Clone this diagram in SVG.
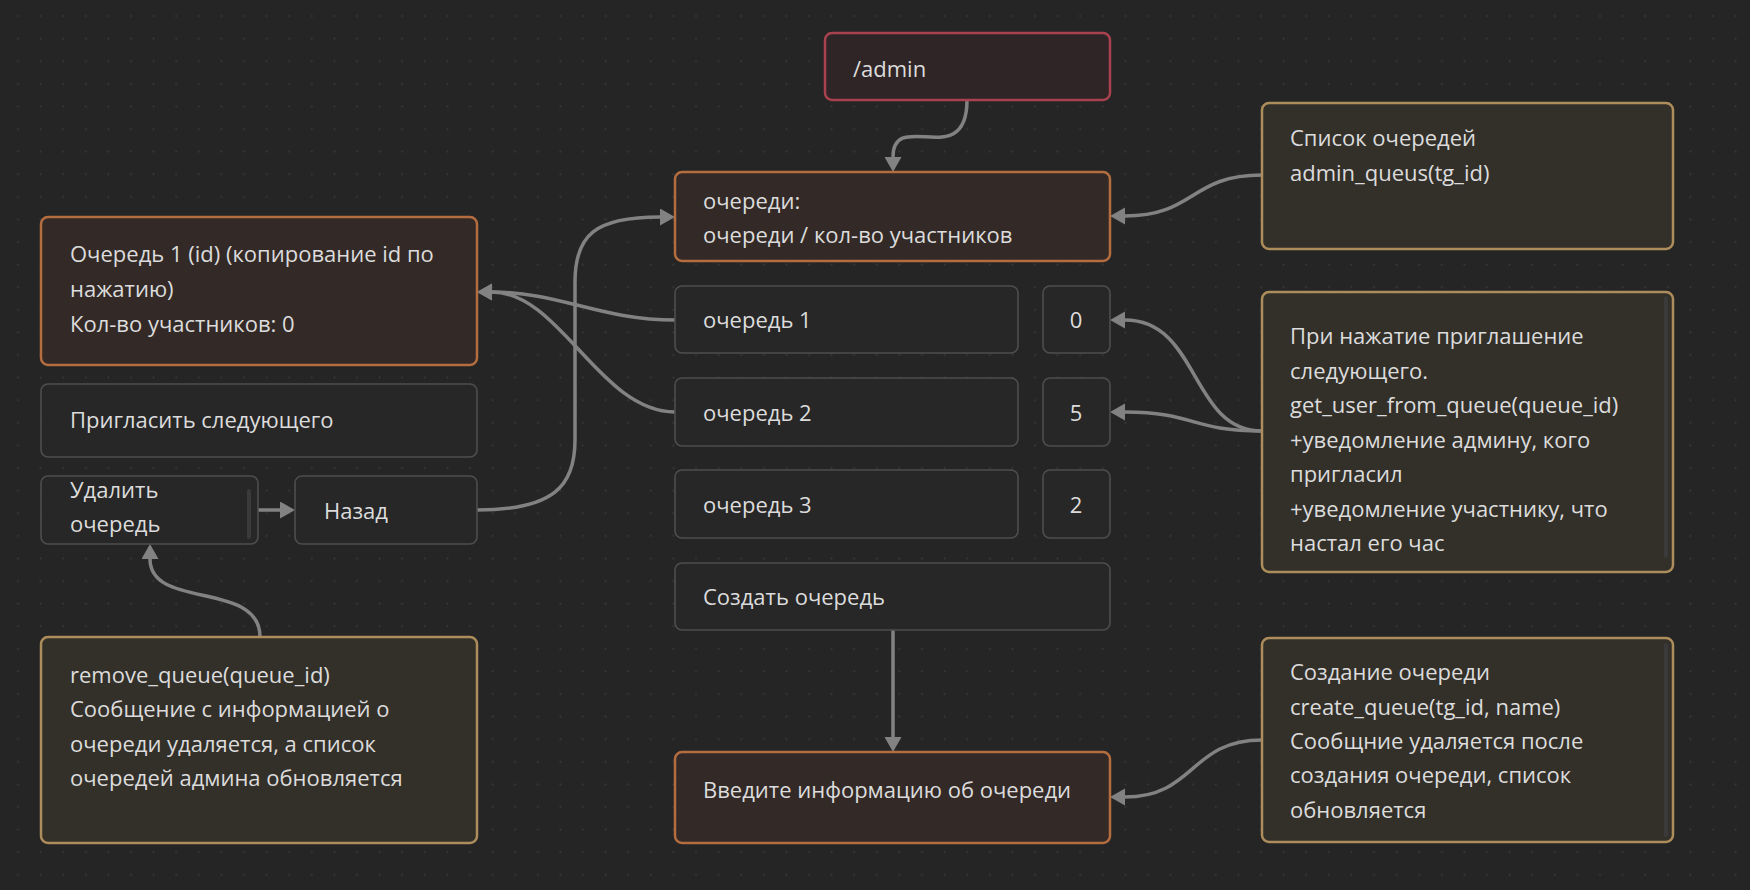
<svg xmlns="http://www.w3.org/2000/svg" width="1750" height="890" viewBox="0 0 1750 890">
<defs>
<pattern id="grid" x="6.7" y="4.7" width="22.6" height="22.6" patternUnits="userSpaceOnUse">
<circle cx="11.3" cy="11.3" r="1" fill="#3a3a3a"/>
</pattern>
<marker id="arr" markerUnits="userSpaceOnUse" markerWidth="16" markerHeight="18" refX="0" refY="8.5" orient="auto">
<path d="M0,0 L15,8.5 L0,17 z" fill="#828282"/>
</marker>
<style>
text{font-family:"Open Sans","Noto Sans",sans-serif;font-size:22px;fill:#dcdcdc}
.n{fill:#272727;stroke:#4e4e4e;stroke-width:1.6}
.o{fill:#332a27;stroke:#b46d3f;stroke-width:2.5}
.r{fill:#2f2526;stroke:#a8424f;stroke-width:2.5}
.t{fill:#33302a;stroke:#ad8d5b;stroke-width:2.5}
.sb{fill:#3a3a3a}
.e{fill:none;stroke:#828282;stroke-width:3.5;marker-end:url(#arr)}
.c{text-anchor:middle}
</style>
</defs>
<rect width="1750" height="890" fill="#252525"/>
<rect width="1750" height="890" fill="url(#grid)"/>

<g id="edges">
<path class="e" d="M967,100 C967,172 893,108 893,157"/>
<path class="e" d="M1262,175 C1190,175 1195,216 1125,216"/>
<path class="e" d="M675,320 C600,320 560,292 492,292"/>
<path class="e" d="M675,412 C600,412 560,292 492,292"/>
<path class="e" d="M477,510 C555,510 575,485 575,440 L575,282 C575,235 595,217 660,217"/>
<path class="e" d="M258,510 L280,510"/>
<path class="e" d="M260,637 C260,580 150,610 150,559"/>
<path class="e" d="M1262,431 C1190,431 1200,320 1125,320"/>
<path class="e" d="M1262,431 C1190,431 1195,412 1125,412"/>
<path class="e" d="M893,630 L893,737"/>
<path class="e" d="M1262,740 C1190,740 1195,797 1125,797"/>
</g>

<g id="admin"><rect class="r" x="825" y="33" width="285" height="67" rx="7"/><text x="853" y="77">/admin</text></g>
<g id="queues"><rect class="o" x="675" y="172" width="435" height="89" rx="7"/><text x="703" y="209">очереди:</text><text x="703" y="243">очереди / кол-во участников</text></g>
<g id="queue1-info"><rect class="o" x="41" y="217" width="436" height="148" rx="7"/><text x="70" y="262">Очередь 1 (id) (копирование id по</text><text x="70" y="297">нажатию)</text><text x="70" y="332">Кол-во участников: 0</text></g>
<g id="invite"><rect class="n" x="41" y="384" width="436" height="73" rx="7"/><text x="70" y="428">Пригласить следующего</text></g>
<g id="delete"><rect class="n" x="41" y="476" width="217" height="68" rx="7"/><rect class="sb" x="247" y="489" width="4" height="50" rx="2"/><text x="70" y="498">Удалить</text><text x="70" y="532">очередь</text></g>
<g id="back"><rect class="n" x="295" y="476" width="182" height="68" rx="7"/><text x="324" y="519">Назад</text></g>
<g id="remove-note"><rect class="t" x="41" y="637" width="436" height="206" rx="7"/><text x="70" y="683">remove_queue(queue_id)</text><text x="70" y="717">Сообщение с информацией о</text><text x="70" y="752">очереди удаляется, а список</text><text x="70" y="786">очередей админа обновляется</text></g>
<g id="row1"><rect class="n" x="675" y="286" width="343" height="67" rx="7"/><text x="703" y="328">очередь 1</text></g>
<g id="count1"><rect class="n" x="1043" y="286" width="67" height="67" rx="7"/><text class="c" x="1076" y="328">0</text></g>
<g id="row2"><rect class="n" x="675" y="378" width="343" height="68" rx="7"/><text x="703" y="421">очередь 2</text></g>
<g id="count2"><rect class="n" x="1043" y="378" width="67" height="68" rx="7"/><text class="c" x="1076" y="421">5</text></g>
<g id="row3"><rect class="n" x="675" y="470" width="343" height="68" rx="7"/><text x="703" y="513">очередь 3</text></g>
<g id="count3"><rect class="n" x="1043" y="470" width="67" height="68" rx="7"/><text class="c" x="1076" y="513">2</text></g>
<g id="create"><rect class="n" x="675" y="563" width="435" height="67" rx="7"/><text x="703" y="605">Создать очередь</text></g>
<g id="enter"><rect class="o" x="675" y="752" width="435" height="91" rx="7"/><text x="703" y="798">Введите информацию об очереди</text></g>
<g id="list-note"><rect class="t" x="1262" y="103" width="411" height="146" rx="7"/><text x="1290" y="146">Список очередей</text><text x="1290" y="181">admin_queus(tg_id)</text></g>
<g id="press-note"><rect class="t" x="1262" y="292" width="411" height="280" rx="7"/><rect class="sb" x="1664" y="296" width="4" height="262" rx="2"/><text x="1290" y="344">При нажатие приглашение</text><text x="1290" y="378.5">следующего.</text><text x="1290" y="413">get_user_from_queue(queue_id)</text><text x="1290" y="447.5">+уведомление админу, кого</text><text x="1290" y="482">пригласил</text><text x="1290" y="516.5">+уведомление участнику, что</text><text x="1290" y="551">настал его час</text></g>
<g id="create-note"><rect class="t" x="1262" y="638" width="411" height="204" rx="7"/><rect class="sb" x="1664" y="643" width="4" height="194" rx="2"/><text x="1290" y="680">Создание очереди</text><text x="1290" y="715">create_queue(tg_id, name)</text><text x="1290" y="749">Сообщние удаляется после</text><text x="1290" y="783">создания очереди, список</text><text x="1290" y="818">обновляется</text></g>
</svg>
